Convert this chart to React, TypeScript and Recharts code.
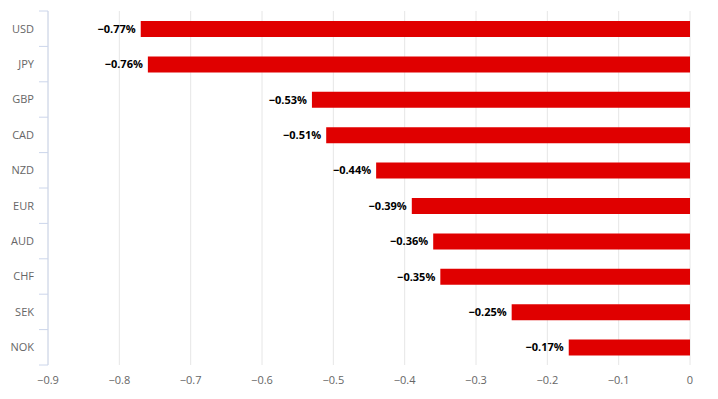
import { BarChart, Bar, XAxis, YAxis, CartesianGrid, LabelList } from "recharts";

const currencies = ["USD", "JPY", "GBP", "CAD", "NZD", "EUR", "AUD", "CHF", "SEK", "NOK"];
const changes = [-0.77, -0.76, -0.53, -0.51, -0.44, -0.39, -0.36, -0.35, -0.25, -0.17];
const xTicks = [-0.9, -0.8, -0.7, -0.6, -0.5, -0.4, -0.3, -0.2, -0.1, 0];

const FONT = "'Open Sans', sans-serif";
const TOP = 11;
const BOTTOM = 365;
const BAND = (BOTTOM - TOP) / currencies.length;

const minus = (s: string) => s.replace("-", "\u2212");

function CategoryTick(props: any) {
  const { x, y, payload, index } = props;
  // tick x comes in at axis - tickSize - tickMargin
  const axisX = x + 8;
  const top = y - BAND / 2;
  return (
    <g>
      <line x1={axisX - 9} x2={axisX} y1={top} y2={top} stroke="#ccd6eb" />
      {index === currencies.length - 1 && (
        <line x1={axisX - 9} x2={axisX} y1={top + BAND} y2={top + BAND} stroke="#ccd6eb" />
      )}
      <text x={axisX - 14} y={y} dy="0.35em" textAnchor="end" fill="#666666" fontSize={11} fontFamily={FONT}>
        {payload.value}
      </text>
    </g>
  );
}

function BarLabel(props: any) {
  const { x, y, width, height, value } = props;
  const left = Math.min(x, x + width);
  return (
    <text
      x={left - 5}
      y={y + height / 2}
      dy="0.35em"
      textAnchor="end"
      fill="#000000"
      fontSize={11}
      fontWeight="bold"
      fontFamily={FONT}
    >
      {minus(Number(value).toFixed(2)) + "%"}
    </text>
  );
}

export default function App() {
  const data = currencies.map((name, i) => ({ name, value: changes[i] }));

  return (
    <div style={{ position: "absolute", left: 0, top: 0, background: "#fff" }}>
      <BarChart
        width={718}
        height={399}
        data={data}
        layout="vertical"
        margin={{ top: TOP, right: 28, bottom: 0, left: 0 }}
      >
        <CartesianGrid horizontal={false} stroke="#e6e6e6" />
        <XAxis
          type="number"
          domain={[-0.9, 0]}
          ticks={xTicks}
          height={34}
          axisLine={false}
          tickLine={false}
          tickMargin={5}
          tick={{ fill: "#666666", fontSize: 11, fontFamily: FONT }}
          tickFormatter={(v: number) => minus(String(v))}
        />
        <YAxis
          type="category"
          dataKey="name"
          width={48}
          axisLine={{ stroke: "#ccd6eb" }}
          tickLine={false}
          tick={<CategoryTick />}
          interval={0}
        />
        <Bar dataKey="value" fill="#e00000" barSize={16} isAnimationActive={false}>
          <LabelList dataKey="value" content={<BarLabel />} />
        </Bar>
      </BarChart>
    </div>
  );
}
